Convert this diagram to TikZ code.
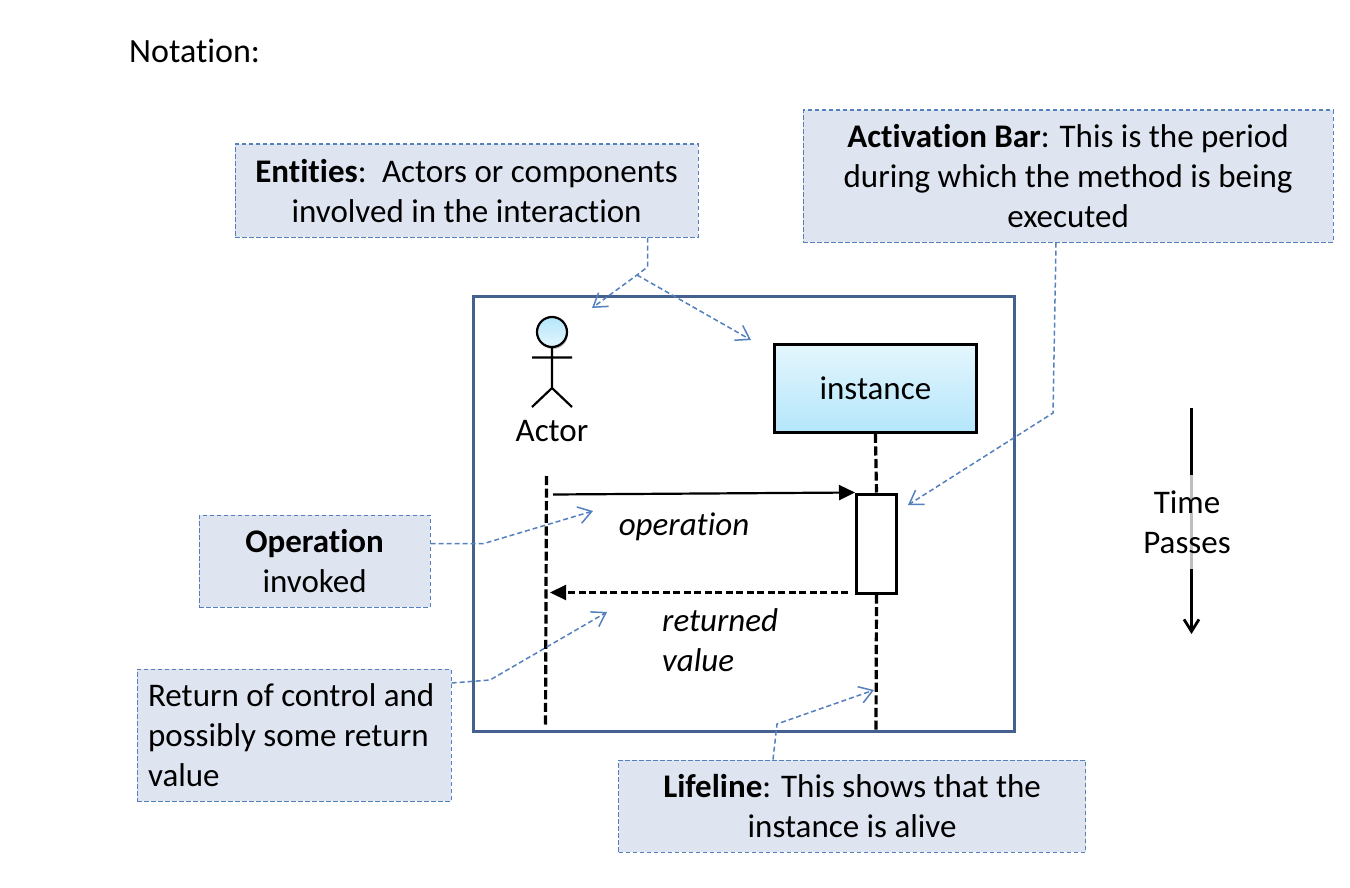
\documentclass[tikz,border=0pt]{standalone}
\usepackage{fontspec}
\setmainfont{Carlito}[Ligatures=CommonOff]
\usetikzlibrary{arrows.meta,shadows,calc}
\definecolor{notefill}{HTML}{DEE4F0}
\definecolor{noteline}{HTML}{5580BE}
\definecolor{framecol}{HTML}{44608F}
\definecolor{cyanlow}{HTML}{B4E6FB}
\definecolor{cyanhigh}{HTML}{E4F6FD}
\newcommand{\bodyfont}{\fontsize{33}{40}\selectfont}
\tikzset{
  note/.style={draw=noteline,fill=notefill,line width=1.2pt,dash pattern=on 4.5pt off 2.5pt,inner sep=0pt,anchor=north west,font=\bodyfont,align=center,text=black},
  noteconn/.style={draw=noteline,line width=1.5pt,dash pattern=on 5pt off 3pt,-{Straight Barb[length=13pt,width=17pt,line width=1.5pt,sharp]}},
  txt/.style={font=\bodyfont,align=center,inner sep=0pt,text=black},
  life/.style={draw=black,line width=3.2pt,dash pattern=on 9.1pt off 3.5pt},
  softshadow/.style={drop shadow={shadow xshift=1pt,shadow yshift=-2pt,fill=black,opacity=.25}},
}
\begin{document}
\begin{tikzpicture}[x=1pt,y=-1pt]
\useasboundingbox[fill=white] (0,0) rectangle (1350,888);

\node[txt,anchor=west,font=\fontsize{34}{40}\selectfont] (title) at (129,51) {Notation:};

% frame
\node[draw=framecol,line width=3pt,minimum width=541pt,minimum height=435pt,inner sep=0pt,anchor=north west] (frame) at (472,295) {};

% time arrow
\coordinate (ttop) at (1191.5,408);
\coordinate (tbot) at (1191.5,634);
\draw[line width=2.8pt,-{Straight Barb[length=12pt,width=15pt,line width=2.8pt]}] (ttop) -- (tbot);
\node[fill=white,fill opacity=.75,text opacity=1,txt,minimum width=170pt,minimum height=94pt] (time) at (1187,522) {Time\\Passes};

% actor
\coordinate (crotch) at (552,388);
\node[circle,draw=black,line width=2.2pt,minimum size=30pt,inner sep=0pt,top color=cyanhigh,bottom color=cyanlow,shading angle=180,softshadow] (head) at (552,332) {};
\coordinate (armL) at (532,357.5);
\coordinate (armR) at (572,357.5);
\coordinate (legL) at (532,407);
\coordinate (legR) at (572,407);
\draw[line width=2.2pt] (head.south) -- (crotch) (armL) -- (armR) (legL) -- (crotch) -- (legR);
\node[txt,anchor=center] (actor) at (552,431) {Actor};

% instance
\node[draw=black,line width=2.8pt,minimum width=202pt,minimum height=88pt,inner sep=0pt,anchor=north west,top color=cyanhigh,bottom color=cyanlow,softshadow,txt] (inst) at (773,343) {instance};
\node[draw=black,fill=white,line width=3pt,minimum width=40pt,minimum height=99pt,inner sep=0pt,anchor=north west] (bar) at (855,492.5) {};

% lifelines
\coordinate (alife1) at (546.5,476);
\coordinate (alife2) at (545.5,724.5);
\coordinate (ilife2) at (876,730);
\draw[life] (alife1) -- (alife2);
\draw[life] (inst.south) -- (bar.north);
\draw[life] (bar.south) -- (ilife2);

% messages
\coordinate (opstart) at (553,494.5);
\coordinate (retend) at (550,592.5);
\coordinate (retstart) at (848,592.5);
\draw[line width=2.2pt,-{Triangle[length=16pt,width=15pt]}] (opstart) -- (bar.north west);
\draw[line width=2.2pt,dash pattern=on 7pt off 3.5pt,-{Triangle[length=16pt,width=15pt]}] (retstart) -- (retend);
\node[txt,anchor=center,font=\bodyfont\itshape] (oplab) at (684,527) {operation};
\node[txt,anchor=north west,align=left,font=\bodyfont\itshape] (retlab) at (662,608) {returned\\value};

% notes
\node[note,minimum width=463pt,minimum height=93pt] (nent) at (234.5,143.5) {\textbf{Entities}:\, Actors or components\\involved in the interaction};
\node[note,minimum width=530pt,minimum height=132pt] (nact) at (802.5,109.5) {\textbf{Activation Bar}: This is the period\\during which the method is being\\executed};
\node[note,minimum width=231pt,minimum height=92pt] (nop) at (198.5,514.5) {\textbf{Operation}\\invoked};
\node[note,text width=292pt,inner xsep=11pt,minimum height=132pt,align=flush left] (nret) at (136.5,668.5) {Return of control and\\possibly some return\\value};
\node[note,minimum width=467pt,minimum height=92pt] (nlife) at (618,759.5) {\textbf{Lifeline}: This shows that the\\instance is alive};

% note connectors
\coordinate (e1) at (647.5,267);
\coordinate (e2) at (637,275);
\coordinate (eActor) at (592,308);
\coordinate (eInst) at (751,340);
\draw[noteconn] (nent.south -| e1) -- (e1) -- (e2) -- (eActor);
\draw[noteconn] (e2) -- (eInst);
\coordinate (a1) at (1056,243);
\coordinate (a2) at (1053,413);
\coordinate (aEnd) at (908,505);
\draw[noteconn] (nact.south -| a1) -- (a2) -- (aEnd);
\coordinate (o1) at (484,543.5);
\coordinate (oEnd) at (593,511);
\draw[noteconn] (nop.east |- o1) -- (o1) -- (oEnd);
\coordinate (r0) at (451,683);
\coordinate (r1) at (490,680);
\coordinate (rEnd) at (607,612);
\draw[noteconn] (nret.east |- r0) -- (r1) -- (rEnd);
\coordinate (l0) at (773,760);
\coordinate (l1) at (777,724);
\coordinate (lEnd) at (874,690);
\draw[noteconn] (nlife.north -| l0) -- (l1) -- (lEnd);
\end{tikzpicture}
\end{document}
